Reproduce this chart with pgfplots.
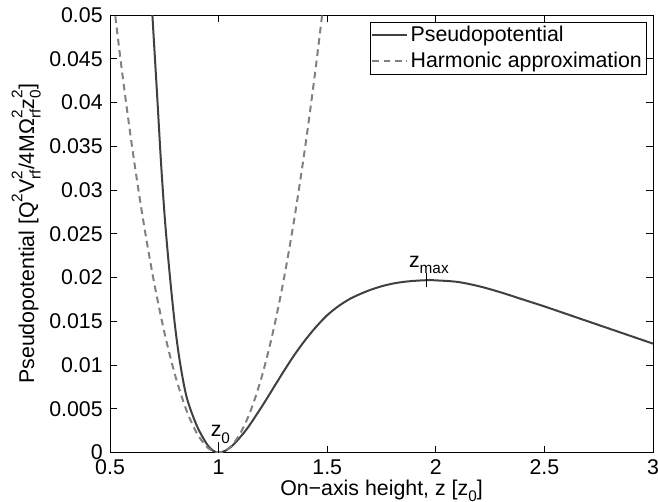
\documentclass[border=0pt]{standalone}
\usepackage{fontspec}
\setmainfont{Liberation Sans}
\usepackage{pgfplots}
\pgfplotsset{compat=1.18}

\definecolor{pseudo}{RGB}{64,64,64}
\definecolor{harm}{RGB}{128,128,128}
% MATLAB-style super/subscripts, stacked when both are given
\newcommand{\up}[1]{\raisebox{0.55em}{\fontsize{11.5}{12}\selectfont #1}}
\newcommand{\dn}[1]{\raisebox{-0.3em}{\fontsize{11.5}{12}\selectfont #1}}
\newcommand{\supsub}[2]{\rlap{\up{#1}}\dn{#2}}

\begin{document}
\fontsize{16}{19}\selectfont
\begin{tikzpicture}
% page = reference frame around the axis box (axis south west sits at the origin)
\useasboundingbox (-82.5pt,-36.75pt) rectangle (410.75pt,339.25pt);
\begin{axis}[
    name=ax,
    at={(0,0)}, anchor=south west,
    scale only axis,
    width=407pt, height=328pt,
    xmin=0.5, xmax=3,
    ymin=0, ymax=0.05,
    xtick={0.5,1,1.5,2,2.5,3},
    ytick={0,0.005,0.01,0.015,0.02,0.025,0.03,0.035,0.04,0.045,0.05},
    scaled y ticks=false,
    yticklabel style={/pgf/number format/fixed, /pgf/number format/precision=3},
    /pgf/number format/assume math mode=true,
    tick align=inside,
    major tick length=5pt,
    axis line style={line width=0.6pt},
    every tick/.style={black, line width=0.6pt},
    xlabel={On−axis height, z [z\dn{0}]},
    ylabel={Pseudopotential [Q\up{2}V\supsub{2}{rf}/4MΩ\supsub{2}{rf}z\supsub{2}{0}]},
    xlabel style={at={(axis description cs:0.5,-0.097)}, anchor=base},
    ylabel style={at={(axis description cs:-0.114,0.5)}, anchor=south},
    legend style={at={(1,1)}, anchor=north east, xshift=-5pt, yshift=-5pt,
        draw=black, line width=0.6pt, fill=white, inner xsep=1pt, inner ysep=1pt,
        row sep=1.5pt},
    legend cell align=left,
    legend image code/.code={\draw[#1] (0pt,0pt) -- (26pt,0pt);},
]

\addplot[pseudo, line width=1.5pt, smooth] coordinates {
    (0.680,0.0570) (0.695,0.0500) (0.718,0.0403) (0.735,0.0330)
    (0.753,0.0265) (0.775,0.0203) (0.799,0.0145) (0.822,0.0103)
    (0.853,0.0063) (0.899,0.0031) (0.945,0.0010) (0.975,0.0002)
    (1.000,0.0000) (1.030,0.0002) (1.068,0.0009) (1.130,0.0027)
    (1.200,0.0053) (1.250,0.0073) (1.300,0.0093) (1.350,0.0112)
    (1.400,0.0129) (1.450,0.0144) (1.500,0.0157) (1.550,0.0167)
    (1.600,0.0175) (1.650,0.0181) (1.700,0.0186) (1.750,0.0190)
    (1.800,0.0193) (1.850,0.0195) (1.900,0.01962) (1.960,0.0197)
    (2.000,0.01968) (2.100,0.0195) (2.200,0.0190) (2.300,0.0183)
    (2.400,0.0175) (2.500,0.0167) (2.600,0.01585) (2.700,0.0150)
    (2.800,0.01415) (2.900,0.0133) (3.000,0.01245)
};
\addlegendentry{Pseudopotential}

\addplot[harm, line width=1.5pt, dash pattern=on 5pt off 3.5pt, smooth] coordinates {
    (0.50,0.05500) (0.55,0.04455) (0.60,0.03520) (0.65,0.02695)
    (0.70,0.01980) (0.75,0.01375) (0.80,0.00880) (0.85,0.00495)
    (0.90,0.00220) (0.95,0.00055) (1.00,0.00000) (1.05,0.00055)
    (1.10,0.00220) (1.15,0.00495) (1.20,0.00880) (1.25,0.01375)
    (1.30,0.01980) (1.35,0.02695) (1.40,0.03520) (1.45,0.04455)
    (1.50,0.05500)
};
\addlegendentry{Harmonic approximation}

% markers at the trap minimum and at the barrier maximum
\addplot[black, line width=1.1pt, forget plot] coordinates {(1,0) (1,0.00125)};
\addplot[black, line width=1.1pt, forget plot] coordinates {(1.957,0.0189) (1.957,0.0205)};
\node[anchor=base] at (axis cs:1.008,0.0018) {z\dn{0}};
\node[anchor=base] at (axis cs:1.968,0.0212) {z\dn{max}};
\end{axis}
\end{tikzpicture}
\end{document}
